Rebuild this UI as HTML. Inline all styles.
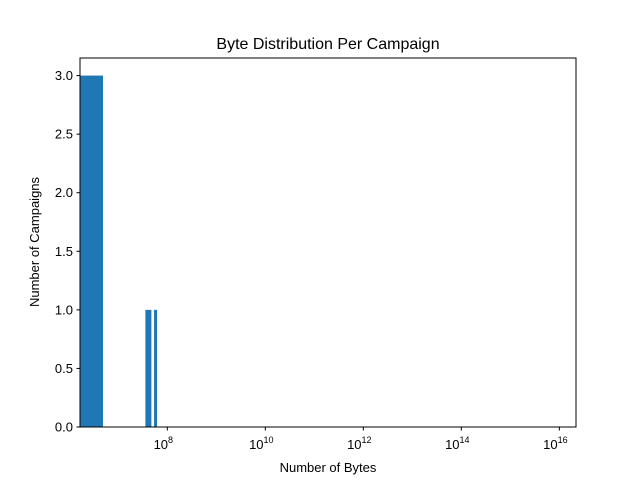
<!DOCTYPE html>
<html><head><meta charset="utf-8"><style>
body{margin:0;background:#fff}
svg text{font-family:"Liberation Sans","DejaVu Sans",sans-serif;fill:#000}
</style></head><body>
<svg id="chart" width="640" height="480" xmlns="http://www.w3.org/2000/svg">
<rect width="640" height="480" fill="#fff"/>
<text x="328" y="49" font-size="16" text-anchor="middle">Byte Distribution Per Campaign</text>
<g id="bars"></g>
<g id="axes"></g>
<text x="328" y="472" font-size="13" text-anchor="middle">Number of Bytes</text>
<text transform="translate(39,242) rotate(-90)" font-size="13" text-anchor="middle">Number of Campaigns</text>
</svg>
<script>
const binStarts = [1.65e6, 3.57e7, 5.36e7];
const binEnds = [4.87e6, 4.73e7, 6.17e7];
const counts = [3, 1, 1];
const yTicks = [0, 0.5, 1.0, 1.5, 2.0, 2.5, 3.0];
const yTickLabels = ["0.0","0.5","1.0","1.5","2.0","2.5","3.0"];
const xTickExps = [8, 10, 12, 14, 16];

const L=80,R=576,T=58,B=427;
const xMinLog=6.218, xMaxLog=16.34;
const yMax=3.15;
const NS="http://www.w3.org/2000/svg";
function xs(v){return L+(Math.log10(v)-xMinLog)/(xMaxLog-xMinLog)*(R-L);}
function ys(v){return B-v/yMax*(B-T);}
function mk(tag,attrs,parent){const e=document.createElementNS(NS,tag);for(const k in attrs)e.setAttribute(k,attrs[k]);parent.appendChild(e);return e;}

const bars=document.getElementById('bars');
counts.forEach((c,i)=>{
  const x0=xs(binStarts[i]),x1=xs(binEnds[i]);
  const r=mk('rect',{x:x0,y:ys(c),width:x1-x0,height:B-ys(c),fill:'#1f77b4'},bars);
  
  
});

const ax=document.getElementById('axes');
const frame=mk('rect',{x:L,y:T,width:R-L,height:B-T,fill:'none',stroke:'#000','stroke-width':1},ax);


yTicks.forEach((v,i)=>{
  const y=ys(v);
  mk('line',{x1:L-3.5,x2:L,y1:y,y2:y,stroke:'#000'},ax);
  const t=mk('text',{x:L-7,y:y+4.5,'font-size':13,'text-anchor':'end'},ax);
  t.textContent=yTickLabels[i];
  
  
});
xTickExps.forEach(e=>{
  const x=xs(Math.pow(10,e));
  mk('line',{x1:x,x2:x,y1:B,y2:B+3.5,stroke:'#000'},ax);
  const t=mk('text',{x:x-4,y:B+22,'font-size':13,'text-anchor':'middle'},ax);
  t.textContent='10';
  const s=mk('tspan',{dy:-6,'font-size':9},t);
  s.textContent=String(e);
  
  
});
</script>
</body></html>
